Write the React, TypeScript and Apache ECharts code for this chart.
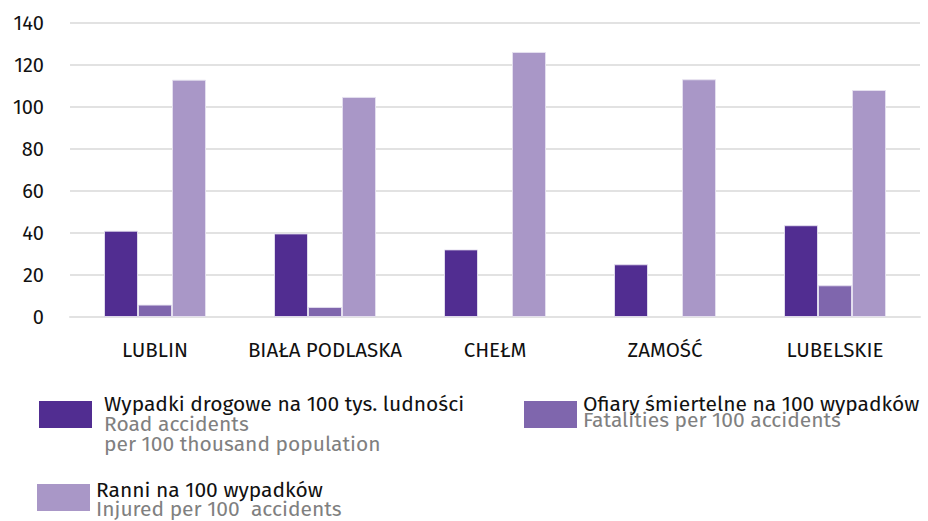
import React, { useEffect, useRef } from "react";
import * as echarts from "echarts";

const categories = ["LUBLIN", "BIAŁA PODLASKA", "CHEŁM", "ZAMOŚĆ", "LUBELSKIE"];
const roadAccidents = [41.1, 39.8, 32.2, 25.1, 43.7];
const fatalities: (number | null)[] = [5.9, 4.8, null, null, 15.1];
const injured = [113.0, 104.8, 126.2, 113.2, 108.1];
const yTicks = { min: 0, max: 140, interval: 20 };

const COLORS = ["#512D91", "#7F66AD", "#A997C7"];
const FONT = "'Fira Sans', 'Open Sans', 'Noto Sans', sans-serif";

export default function App() {
  const ref = useRef<HTMLDivElement>(null);
  useEffect(() => {
    if (!ref.current) return;
    const chart = echarts.init(ref.current, undefined, { renderer: "svg" });
    const barStyle = (c: string) => ({ color: c, borderColor: "rgba(230,225,240,0.9)", borderWidth: 1 });
    const rich = (lh: number) => ({
      a: { fill: "#111", fontSize: 21, lineHeight: lh, fontFamily: FONT },
      b: { fill: "#808080", fontSize: 21, lineHeight: lh, fontFamily: FONT },
    });
    chart.setOption({
      animation: false,
      textStyle: { fontFamily: FONT },
      grid: { left: 70, right: 8, top: 23, bottom: 204 },
      xAxis: {
        type: "category",
        data: categories,
        axisTick: { show: false },
        axisLine: { lineStyle: { color: "#e2e2e2", width: 2 } },
        axisLabel: { color: "#111", fontSize: 20.5, margin: 22, interval: 0, fontFamily: FONT },
      },
      yAxis: {
        type: "value",
        min: yTicks.min,
        max: yTicks.max,
        interval: yTicks.interval,
        axisLabel: { color: "#111", fontSize: 20, margin: 26, fontFamily: FONT },
        splitLine: { lineStyle: { color: "#e2e2e2", width: 2 } },
        axisLine: { show: false },
        axisTick: { show: false },
      },
      series: [
        { type: "bar", name: "Wypadki drogowe na 100 tys. ludności", data: roadAccidents, itemStyle: barStyle(COLORS[0]), barGap: "0%", barCategoryGap: "40%" },
        { type: "bar", name: "Ofiary śmiertelne na 100 wypadków", data: fatalities, itemStyle: barStyle(COLORS[1]), barGap: "0%", barCategoryGap: "40%" },
        { type: "bar", name: "Ranni na 100 wypadków", data: injured, itemStyle: barStyle(COLORS[2]), barGap: "0%", barCategoryGap: "40%" },
      ],
      graphic: [
        { type: "rect", shape: { x: 39, y: 401, width: 53, height: 27 }, style: { fill: COLORS[0] } },
        {
          type: "text",
          x: 104,
          y: 394,
          style: {
            text: "{a|Wypadki drogowe na 100 tys. ludności}\n{b|Road accidents}\n{b|per 100 thousand population}",
            fontFamily: FONT,
            rich: rich(20),
          },
        },
        { type: "rect", shape: { x: 524, y: 401, width: 53, height: 27 }, style: { fill: COLORS[1] } },
        {
          type: "text",
          x: 583,
          y: 396,
          style: {
            text: "{a|Ofiary śmiertelne na 100 wypadków}\n{b|Fatalities per 100 accidents}",
            fontFamily: FONT,
            rich: rich(16),
          },
        },
        { type: "rect", shape: { x: 37, y: 484, width: 53, height: 27 }, style: { fill: COLORS[2] } },
        {
          type: "text",
          x: 96,
          y: 480,
          style: {
            text: "{a|Ranni na 100 wypadków}\n{b|Injured per 100  accidents}",
            fontFamily: FONT,
            rich: rich(19),
          },
        },
      ],
    });
    return () => chart.dispose();
  }, []);
  return <div ref={ref} style={{ width: 928, height: 521, position: "absolute", left: 0, top: 0 }} />;
}
